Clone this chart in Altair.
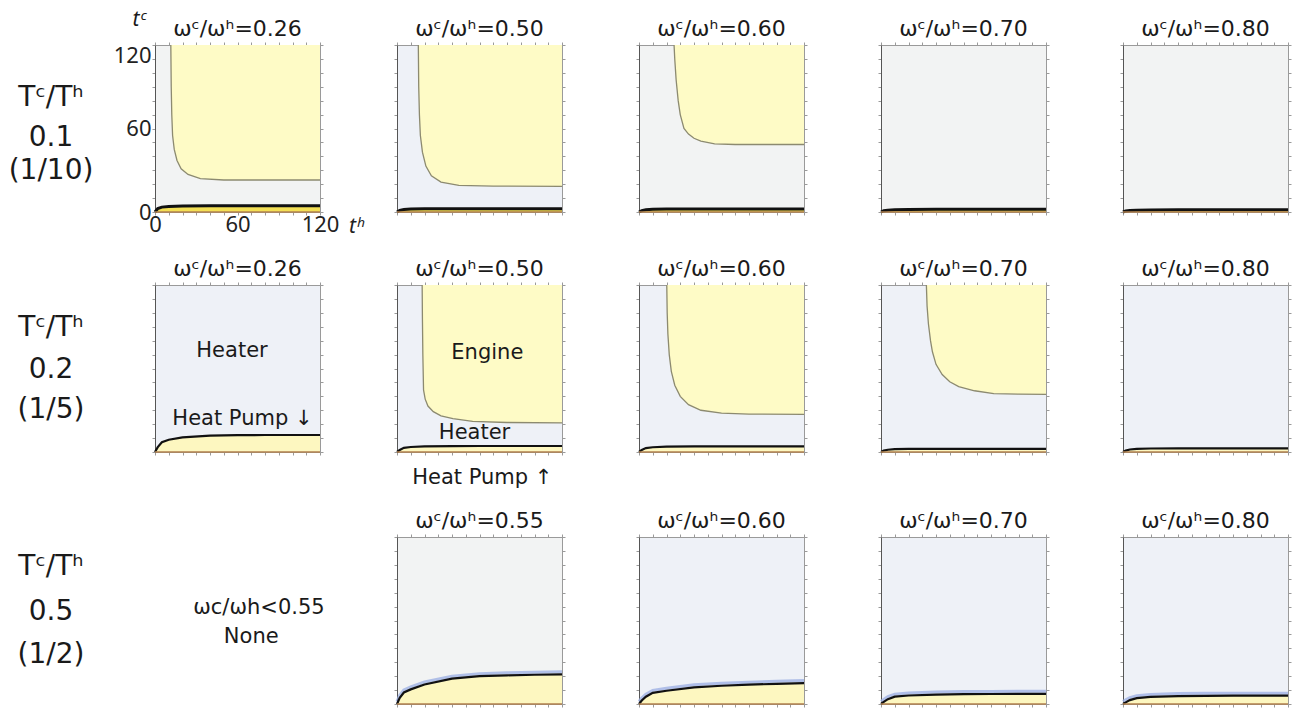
import altair as alt
import pandas as pd

FONT = "Noto Sans"
FONT2 = "DejaVu Sans"

HEATER_GREY = "#f2f3f3"
HEATER_BLUE = "#eef1f7"
ENGINE_YELLOW = "#fefbc6"
PUMP_PALE = "#fdf7c0"
PUMP_BRIGHT = "#f3df55"

TICKS = list(range(0, 121, 10))
TH_GRID = [0, 2, 5, 10, 20, 40, 60, 80, 100, 120]

# Engine region boundaries (t^h, t^c)
ENG_R1C1_TH = [11.5, 11.8, 12.2, 12.8, 14, 16, 19, 24, 33, 50, 120]
ENG_R1C1_TC = [120, 90, 70, 55, 45, 37, 31, 27, 24, 23, 23]
ENG_R1C2_TH = [15.5, 15.8, 16.3, 17, 18.5, 21, 25, 32, 45, 70, 120]
ENG_R1C2_TC = [120, 90, 70, 55, 43, 33, 26, 21.5, 19.2, 18.6, 18.4]
ENG_R1C3_TH = [25.5, 26, 27, 28.5, 30, 32.7, 36, 40, 45, 55, 70, 120]
ENG_R1C3_TC = [120, 110, 95, 80, 70, 60, 56, 53, 51, 49, 48.5, 48.5]
ENG_R2C2_TH = [18.3, 18.5, 18.8, 19.3, 20.5, 22.5, 26.4, 32, 40.7, 55, 80, 120]
ENG_R2C2_TC = [120, 95, 70, 44.6, 38, 33, 29, 26, 24, 22, 21.2, 20.9]
ENG_R2C3_TH = [20.2, 20.5, 21, 22, 23.5, 26, 30, 36, 45, 60, 80, 120]
ENG_R2C3_TC = [120, 100, 85, 70, 58, 48, 40, 34, 30, 28, 27.2, 27]
ENG_R2C4_TH = [33, 33.5, 34.5, 36, 37.4, 40, 44.5, 50, 56.5, 68, 82, 100, 120]
ENG_R2C4_TC = [120, 105, 92, 80, 72, 63, 55.7, 50.5, 47, 44, 42, 41.6, 41.4]

# Heat-pump boundaries sampled on TH_GRID
HP_R1C1 = [0, 2.5, 3.5, 4.0, 4.3, 4.5, 4.5, 4.5, 4.5, 4.5]
HP_R1C2 = [0, 1.2, 1.8, 2.1, 2.3, 2.4, 2.4, 2.4, 2.4, 2.4]
HP_R1C3 = [0, 1.0, 1.6, 1.9, 2.1, 2.2, 2.2, 2.2, 2.2, 2.2]
HP_R1C4 = [0, 0.9, 1.3, 1.6, 1.8, 1.9, 1.9, 1.9, 1.9, 1.9]
HP_R1C5 = [0, 0.8, 1.1, 1.3, 1.5, 1.6, 1.6, 1.6, 1.6, 1.6]
HP_R2C1 = [0, 3.5, 7.0, 8.8, 10.5, 11.8, 12.1, 12.2, 12.2, 12.2]
HP_R2C2 = [0, 1.5, 3.0, 3.6, 4.0, 4.2, 4.3, 4.3, 4.3, 4.3]
HP_R2C3 = [0, 1.5, 2.8, 3.4, 3.8, 4.0, 4.0, 4.0, 4.0, 4.0]
HP_R2C4 = [0, 1.0, 1.6, 2.0, 2.2, 2.3, 2.3, 2.3, 2.3, 2.3]
HP_R2C5 = [0, 1.0, 1.8, 2.2, 2.5, 2.6, 2.6, 2.6, 2.6, 2.6]
HP_R3C2 = [0, 4.5, 8.3, 10.5, 14.0, 18.2, 20.0, 20.6, 21.0, 21.3]
HP_R3C3 = [0, 2.5, 5.2, 8.0, 9.5, 12.0, 13.1, 13.9, 14.5, 15.0]
HP_R3C4 = [0, 1.5, 3.5, 5.3, 6.1, 6.8, 7.1, 7.2, 7.3, 7.3]
HP_R3C5 = [0, 1.2, 2.8, 4.2, 5.1, 5.7, 5.9, 6.0, 6.0, 6.0]

# Region annotations (t^h, t^c, text)
NOTES_R2C1 = [(56, 72.6, "Heater"), (63.6, 23.7, "Heat Pump ↓")]
NOTES_R2C2 = [(65.7, 71, "Engine"), (56.4, 13.7, "Heater"), (62, -18.7, "Heat Pump ↑")]

ROW_LABELS = [["Tᶜ/Tʰ", "0.1", "(1/10)"], ["Tᶜ/Tʰ", "0.2", "(1/5)"], ["Tᶜ/Tʰ", "0.5", "(1/2)"]]
ROW_LABEL_Y = [[82, 53, 29.5], [89, 59, 30], [98.5, 66, 35]]
# vertical axis title of the first panel, placed in the label column (x px, t^c)
TC_TITLE = [(129, 138, "tᶜ")]
RATIOS_R1 = ["0.26", "0.50", "0.60", "0.70", "0.80"]
RATIOS_R2 = ["0.26", "0.50", "0.60", "0.70", "0.80"]
RATIOS_R3 = ["0.55", "0.60", "0.70", "0.80"]
NONE_TEXT = [(75.6, 69, "ωc/ωh<0.55"), (70, 48, "None")]

PW, PH = 165, 167
LW = 68


def sc():
    return alt.Scale(domain=[0, 120], nice=False, zero=False)


def axis(orient, first=False, xaxis=True):
    kw = dict(orient=orient, values=TICKS, tickSize=3, tickColor="#9a9a9a",
              domainColor="#9a9a9a", grid=False, title=None, labels=False)
    if orient == "left":
        kw["domainColor"] = "#555555"
    if first:
        kw.update(labels=True, labelExpr="datum.value % 60 == 0 ? datum.label : ''",
                  labelFont=FONT, labelFontSize=22, labelColor="#222222", labelPadding=1,
                  labelFlush=False, labelOverlap=False)
        if xaxis:
            kw.update(title="tʰ", titleX=201, titleY=14, titleAngle=0, titleAlign="center",
                      titleBaseline="middle", titleFontStyle="italic", titleFont=FONT,
                      titleFontSize=21, titleFontWeight="normal", titleColor="#222222",
                      labelPadding=-1)
        else:
            kw.update(labelBaseline={"condition": {"test": "datum.value >= 120", "value": "top"},
                                     "value": "middle"})
    return alt.Axis(**kw)


def panel(ratio, bg, hp, eng_th=None, eng_tc=None, bright=False, halo=False,
          first=False, notes=None):
    hp_df = pd.DataFrame({"th": TH_GRID, "tc": hp, "bot": [0] * len(TH_GRID)})
    hp_df["halo"] = hp_df["tc"] + 1.8
    base = alt.Chart(hp_df)
    layers = [
        base.mark_area(color=PUMP_BRIGHT if bright else PUMP_PALE, opacity=1).encode(
            x=alt.X("th:Q", scale=sc(), axis=axis("bottom", first, True)),
            y=alt.Y("tc:Q", scale=sc(), axis=axis("left", first, False)),
            y2="bot:Q"),
    ]
    if eng_th is not None:
        e_df = pd.DataFrame({"th": eng_th, "tc": eng_tc, "top": [120] * len(eng_th)})
        eb = alt.Chart(e_df)
        layers.append(eb.mark_area(color=ENGINE_YELLOW, opacity=1).encode(
            x=alt.X("th:Q", scale=sc(), axis=None),
            y=alt.Y("tc:Q", scale=sc(), axis=None), y2="top:Q"))
        layers.append(eb.mark_line(color="#8c8a70", strokeWidth=1.3).encode(
            x=alt.X("th:Q", scale=sc(), axis=None),
            y=alt.Y("tc:Q", scale=sc(), axis=None)))
    if halo:
        layers.append(base.mark_line(color="#9fb1e3", strokeWidth=3, opacity=0.8).encode(
            x=alt.X("th:Q", scale=sc(), axis=None),
            y=alt.Y("halo:Q", scale=sc(), axis=None)))
    layers.append(base.mark_line(color="#111111", strokeWidth=3 if bright else 2.2).encode(
        x=alt.X("th:Q", scale=sc(), axis=None),
        y=alt.Y("tc:Q", scale=sc(), axis=None)))
    layers.append(base.mark_line(color="#b0804f", strokeWidth=1.5).encode(
        x=alt.X("th:Q", scale=sc(), axis=axis("top")),
        y=alt.Y("bot:Q", scale=sc(), axis=axis("right"))))
    if notes:
        n_df = pd.DataFrame(notes, columns=["th", "tc", "txt"])
        layers.append(alt.Chart(n_df).mark_text(font=FONT2, fontSize=21, color="#1a1a1a").encode(
            x=alt.X("th:Q", scale=sc(), axis=None),
            y=alt.Y("tc:Q", scale=sc(), axis=None), text="txt:N"))
    title = alt.TitleParams("ωᶜ/ωʰ=" + ratio, font=FONT2, fontSize=22, fontWeight="normal",
                            color="#1a1a1a", offset=1, anchor="middle")
    return alt.layer(*layers).resolve_axis(x="independent", y="independent").properties(
        width=PW, height=PH, title=title,
        view=alt.ViewBackground(fill=bg, stroke="#aaaaaa", strokeWidth=1))


def row_label(i, extra=None):
    df = pd.DataFrame({"x": [LW - 27] * 3, "y": ROW_LABEL_Y[i], "t": ROW_LABELS[i]})
    layers = [alt.Chart(df).mark_text(font=FONT2, fontSize=28, color="#1a1a1a").encode(
        x=alt.X("x:Q", scale=alt.Scale(domain=[0, LW]), axis=None),
        y=alt.Y("y:Q", scale=sc(), axis=None), text="t:N")]
    if extra:
        e_df = pd.DataFrame(extra, columns=["x", "y", "t"])
        layers.append(alt.Chart(e_df).mark_text(font=FONT, fontSize=21, fontStyle="italic",
                                                 color="#1a1a1a").encode(
            x=alt.X("x:Q", scale=alt.Scale(domain=[0, LW]), axis=None),
            y=alt.Y("y:Q", scale=sc(), axis=None), text="t:N"))
    return alt.layer(*layers).properties(
        width=LW, height=PH, view=alt.ViewBackground(stroke="transparent"))


def none_cell():
    df = pd.DataFrame(NONE_TEXT, columns=["th", "tc", "txt"])
    return alt.Chart(df).mark_text(font=FONT2, fontSize=21, color="#1a1a1a").encode(
        x=alt.X("th:Q", scale=sc(), axis=None),
        y=alt.Y("tc:Q", scale=sc(), axis=None), text="txt:N").properties(
        width=PW, height=PH, view=alt.ViewBackground(stroke="transparent"))


row1 = alt.hconcat(
    row_label(0, TC_TITLE),
    panel(RATIOS_R1[0], HEATER_GREY, HP_R1C1, ENG_R1C1_TH, ENG_R1C1_TC, bright=True, first=True),
    panel(RATIOS_R1[1], HEATER_BLUE, HP_R1C2, ENG_R1C2_TH, ENG_R1C2_TC, bright=True),
    panel(RATIOS_R1[2], HEATER_GREY, HP_R1C3, ENG_R1C3_TH, ENG_R1C3_TC, bright=True),
    panel(RATIOS_R1[3], HEATER_GREY, HP_R1C4, bright=True),
    panel(RATIOS_R1[4], HEATER_GREY, HP_R1C5, bright=True),
    spacing=77, bounds="flush")

row2 = alt.hconcat(
    row_label(1),
    panel(RATIOS_R2[0], HEATER_BLUE, HP_R2C1, notes=NOTES_R2C1),
    panel(RATIOS_R2[1], HEATER_BLUE, HP_R2C2, ENG_R2C2_TH, ENG_R2C2_TC, notes=NOTES_R2C2),
    panel(RATIOS_R2[2], HEATER_BLUE, HP_R2C3, ENG_R2C3_TH, ENG_R2C3_TC),
    panel(RATIOS_R2[3], HEATER_BLUE, HP_R2C4, ENG_R2C4_TH, ENG_R2C4_TC),
    panel(RATIOS_R2[4], HEATER_BLUE, HP_R2C5),
    spacing=77, bounds="flush")

row3 = alt.hconcat(
    row_label(2),
    none_cell(),
    panel(RATIOS_R3[0], HEATER_GREY, HP_R3C2, halo=True),
    panel(RATIOS_R3[1], HEATER_BLUE, HP_R3C3, halo=True),
    panel(RATIOS_R3[2], HEATER_BLUE, HP_R3C4, halo=True),
    panel(RATIOS_R3[3], HEATER_BLUE, HP_R3C5, halo=True),
    spacing=77, bounds="flush")

chart = alt.vconcat(
    alt.vconcat(row1, row2, spacing=20),
    row3, spacing=20
).properties(padding=0, background="white")

chart.save("out.html", embed_options={"renderer": "svg", "actions": False})
